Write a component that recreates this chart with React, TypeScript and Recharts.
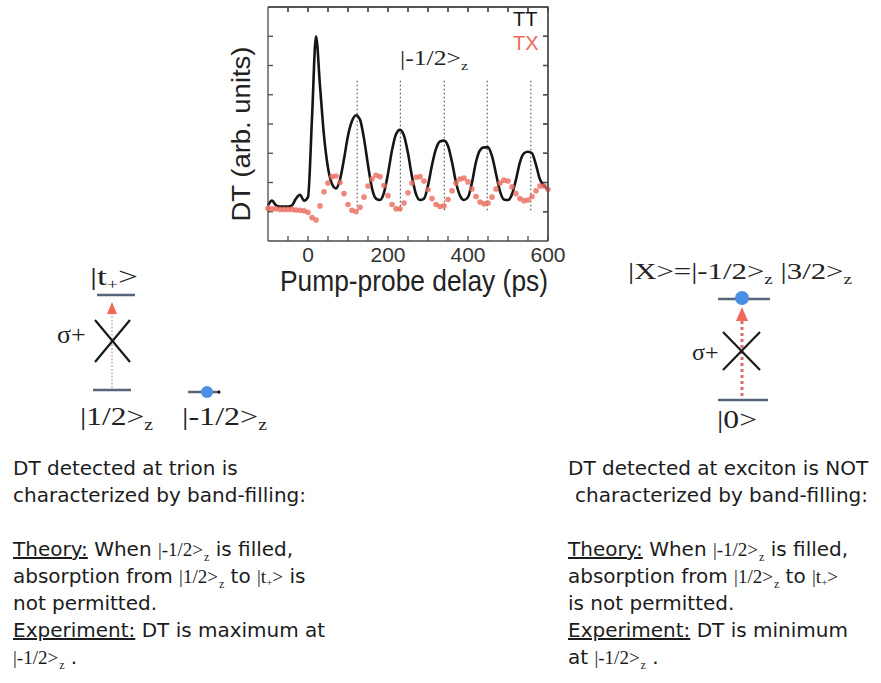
import React from 'react'
import { LineChart, Line, XAxis, YAxis, ReferenceLine, Legend } from 'recharts'

// pump-probe delay grid (ps)
const DELAY_PS = [
  -100, -90, -80, -70, -60, -50, -40, -30, -20, -10,
  0, 10, 20, 30, 40, 50, 60, 70, 80, 90,
  100, 110, 120, 130, 140, 150, 160, 170, 180, 190,
  200, 210, 220, 230, 240, 250, 260, 270, 280, 290,
  300, 310, 320, 330, 340, 350, 360, 370, 380, 390,
  400, 410, 420, 430, 440, 450, 460, 470, 480, 490,
  500, 510, 520, 530, 540, 550, 560, 570, 580, 590,
  600,
]

// DT detected at trion (black line)
const TT_SIGNAL = [
  1.22, 1.38, 1.22, 1.18, 1.18, 1.18, 1.22, 1.45, 1.58, 1.38,
  1.5, 4.2, 7.0, 5.3, 3.6, 2.5, 1.95, 1.8, 2.1, 2.8,
  3.6, 4.1, 4.3, 4.15, 3.5, 2.6, 1.8, 1.45, 1.4, 1.65,
  2.3, 3.1, 3.65, 3.8, 3.6, 3.0, 2.2, 1.6, 1.4, 1.45,
  1.9, 2.6, 3.15, 3.4, 3.43, 3.25, 2.7, 2.0, 1.55, 1.4,
  1.5, 2.0, 2.7, 3.1, 3.2, 3.2, 2.9, 2.3, 1.7, 1.42,
  1.4, 1.6, 2.1, 2.7, 3.0, 3.05, 3.0, 2.6, 2.1, 1.9,
  1.75,
]

// DT detected at exciton (red dots)
const TX_SIGNAL = [
  1.12, 1.1, 1.1, 1.08, 1.08, 1.08, 1.08, 1.06, 1.05, 1.03,
  0.98, 0.8, 0.72, 1.2, 1.68, 1.98, 2.2, 2.22, 2.0, 1.62,
  1.25, 1.05, 1.0, 1.15, 1.5, 1.88, 2.12, 2.25, 2.2, 1.9,
  1.55, 1.25, 1.1, 1.1, 1.3, 1.65, 1.98, 2.18, 2.2, 2.05,
  1.75, 1.45, 1.25, 1.18, 1.2, 1.42, 1.72, 1.98, 2.12, 2.15,
  2.02, 1.78, 1.52, 1.33, 1.27, 1.3, 1.5, 1.78, 1.98, 2.08,
  2.05, 1.85, 1.62, 1.45, 1.38, 1.4, 1.52, 1.72, 1.88, 1.88,
  1.76,
]

// |-1/2>z filling times marked by dotted lines
const PEAK_DELAYS = [123, 231, 341, 448, 557]
const MARK_LOW = 1.05
const MARK_HIGH = 5.5

const X_DOMAIN = [-100, 600]
const Y_DOMAIN = [0, 8]
const X_TICKS = [-50, 0, 50, 100, 150, 200, 250, 300, 350, 400, 450, 500, 550, 600]
const X_LABELED = [0, 200, 400, 600]
const Y_TICKS = [1, 2, 3, 4, 5, 6, 7]

const COLORS: Record<string, string> = { tt: '#151515', tx: '#eb6a5c' }

const data = DELAY_PS.map((t, i) => ({ t, tt: TT_SIGNAL[i], tx: TX_SIGNAL[i] }))

// chart placement on the page
const CHART_LEFT = 200
const CHART_W = 420
const CHART_H = 310
const MARGIN = { top: -13, right: 52, bottom: 10, left: 0 }
const Y_AXIS_W = 68
const TOP_AXIS_H = 20
const RIGHT_AXIS_W = 20
const X_AXIS_H = 59
const PLOT = {
  left: CHART_LEFT + MARGIN.left + Y_AXIS_W,
  right: CHART_LEFT + CHART_W - MARGIN.right - RIGHT_AXIS_W,
  top: MARGIN.top + TOP_AXIS_H,
  bottom: CHART_H - MARGIN.bottom - X_AXIS_H,
}
const px = (t: number) => PLOT.left + ((t - X_DOMAIN[0]) / (X_DOMAIN[1] - X_DOMAIN[0])) * (PLOT.right - PLOT.left)
const py = (v: number) => PLOT.bottom - ((v - Y_DOMAIN[0]) / (Y_DOMAIN[1] - Y_DOMAIN[0])) * (PLOT.bottom - PLOT.top)

const SANS = "'Liberation Sans', Arial, Helvetica, sans-serif"
const SERIF = "'Liberation Serif', 'Times New Roman', serif"
const TEXT = "'DejaVu Sans', Verdana, sans-serif"
const AXIS = '#4a4a4a'
const LEVEL = '#56657a'
const blank = () => ''

const XTitle = (props: any) => {
  const vb = props.viewBox || { x: 68, y: 241 }
  return (
    <text x={vb.x + 12} y={vb.y + 50} fontFamily={SANS} fontSize={29} fill="#222" textLength={268} lengthAdjust="spacingAndGlyphs">
      Pump-probe delay (ps)
    </text>
  )
}

const YTitle = () => (
  <text x={50} y={134} transform="rotate(-90, 50, 134)" textAnchor="middle" fontFamily={SANS} fontSize={25} fill="#222" textLength={175} lengthAdjust="spacingAndGlyphs">
    DT (arb. units)
  </text>
)

const renderLegend = (props: any) => (
  <div style={{ fontFamily: SANS, fontSize: 20, lineHeight: '24px' }}>
    {(props.payload || []).filter((p: any) => COLORS[p.dataKey] && p.type !== 'none').map((p: any) => (
      <div key={p.value} style={{ color: COLORS[p.dataKey] }}>{p.value}</div>
    ))}
  </div>
)

const Ket = ({ children, sub }: { children: React.ReactNode; sub?: string }) => (
  <span style={{ fontFamily: SERIF, fontSize: 19 }}>
    {children}
    {sub && <span style={{ fontSize: 12, position: 'relative', top: 5, marginLeft: 1 }}>{sub}</span>}
  </span>
)

const Tp = () => (
  <Ket>|t<span style={{ fontSize: 11, position: 'relative', top: 3 }}>+</span>&gt;</Ket>
)

const U = ({ children }: { children: React.ReactNode }) => (
  <span style={{ textDecoration: 'underline' }}>{children}</span>
)

const lineStyle = (top: number, left: number): React.CSSProperties => ({
  position: 'absolute', top, left, whiteSpace: 'nowrap', fontFamily: TEXT, fontSize: 20, lineHeight: '27px', color: '#1c1c1c',
})

const SubZ = () => <tspan fontSize="0.62em" dy={5}>z</tspan>

export default function App() {
  return (
    <div style={{ position: 'absolute', left: 0, top: 0, width: 881, height: 683, background: '#fff', overflow: 'hidden' }}>
      <div style={{ position: 'absolute', left: CHART_LEFT, top: 0 }}>
        <LineChart width={CHART_W} height={CHART_H} data={data} margin={MARGIN}>
          <XAxis
            dataKey="t" type="number" domain={X_DOMAIN} ticks={X_TICKS} interval={0}
            tickFormatter={(v: number) => (X_LABELED.includes(v) ? String(v) : '')}
            height={X_AXIS_H} tickSize={-5} tickMargin={11} stroke={AXIS} strokeWidth={1.3}
            tick={{ fill: '#333', fontSize: 21, fontFamily: SANS }}
            label={(p: any) => <XTitle {...p} />}
          />
          <XAxis xAxisId="top" dataKey="t" orientation="top" type="number" domain={X_DOMAIN} ticks={X_TICKS} interval={0}
            height={TOP_AXIS_H} tickSize={-5} tickFormatter={blank} stroke={AXIS} strokeWidth={1.3} />
          <YAxis type="number" domain={Y_DOMAIN} ticks={Y_TICKS} interval={0} width={Y_AXIS_W} tickSize={-5} tickFormatter={blank}
            stroke={AXIS} strokeWidth={1.3} label={() => <YTitle />} />
          <YAxis yAxisId="right" orientation="right" type="number" domain={Y_DOMAIN} ticks={Y_TICKS} interval={0}
            width={RIGHT_AXIS_W} tickSize={-5} tickFormatter={blank} stroke={AXIS} strokeWidth={1.3} />
          {PEAK_DELAYS.map((p) => (
            <ReferenceLine key={p} segment={[{ x: p, y: MARK_LOW }, { x: p, y: MARK_HIGH }]} stroke="#555" strokeWidth={1.2} strokeDasharray="1.5 2.5" />
          ))}
          {/* invisible copy that binds the top and right frame axes */}
          <Line xAxisId="top" yAxisId="right" dataKey="tt" stroke="none" dot={false} legendType="none" isAnimationActive={false} />
          <Line type="monotone" dataKey="tt" name="TT" stroke={COLORS.tt} strokeWidth={2.6} dot={false} isAnimationActive={false} />
          <Line type="monotone" dataKey="tx" name="TX" stroke="none" dot={{ r: 2.8, fill: COLORS.tx, stroke: 'none', fillOpacity: 0.8 }} isAnimationActive={false} />
          <Legend content={renderLegend} layout="horizontal" verticalAlign="middle" align="center"
            wrapperStyle={{ position: 'absolute', top: 7, left: 313, width: 40, height: 50 }} />
        </LineChart>
      </div>

      <svg width={881} height={683} style={{ position: 'absolute', left: 0, top: 0, pointerEvents: 'none' }}>
        {/* plot frame: top and right sides with inward ticks */}
        <path d={`M${PLOT.left},${PLOT.top} H${PLOT.right} V${PLOT.bottom}`} fill="none" stroke={AXIS} strokeWidth={1.3} />
        {X_TICKS.map((t) => (
          <line key={'tt' + t} x1={px(t)} x2={px(t)} y1={PLOT.top} y2={PLOT.top + 5} stroke={AXIS} strokeWidth={1.3} />
        ))}
        {Y_TICKS.map((v) => (
          <line key={'rt' + v} x1={PLOT.right - 5} x2={PLOT.right} y1={py(v)} y2={py(v)} stroke={AXIS} strokeWidth={1.3} />
        ))}

        <text x={400} y={65} fontFamily={SERIF} fontSize={21} fill="#222" textLength={68} lengthAdjust="spacingAndGlyphs">|-1/2&gt;<SubZ /></text>

        {/* trion level scheme */}
        <text x={90} y={285} fontFamily={SERIF} fontSize={26} fill="#222" textLength={48} lengthAdjust="spacingAndGlyphs">|t<tspan fontSize="0.55em" dy={4}>+</tspan><tspan dy={-4}>&gt;</tspan></text>
        <line x1={97} x2={135} y1={295} y2={295} stroke={LEVEL} strokeWidth={2.5} />
        <line x1={112} x2={112} y1={313} y2={388} stroke="#e89a94" strokeWidth={1.5} strokeDasharray="1.5 2" />
        <polygon points="112,302 107,314 117,314" fill="#f2695c" />
        <line x1={95} y1={320} x2={130} y2={362} stroke="#1a1a1a" strokeWidth={2.2} />
        <line x1={130} y1={320} x2={95} y2={362} stroke="#1a1a1a" strokeWidth={2.2} />
        <text x={57} y={343} fontFamily={SERIF} fontSize={26} fill="#222">σ+</text>
        <line x1={93} x2={131} y1={390} y2={390} stroke={LEVEL} strokeWidth={2.5} />
        <text x={80} y={425} fontFamily={SERIF} fontSize={26} fill="#222" textLength={73} lengthAdjust="spacingAndGlyphs">|1/2&gt;<SubZ /></text>
        <line x1={188} x2={220} y1={392} y2={392} stroke={LEVEL} strokeWidth={2.5} />
        <circle cx={207} cy={392} r={6} fill="#4a90e2" />
        <circle cx={219} cy={392} r={1.6} fill="#111" />
        <text x={182} y={425} fontFamily={SERIF} fontSize={26} fill="#222" textLength={85} lengthAdjust="spacingAndGlyphs">|-1/2&gt;<SubZ /></text>

        {/* exciton level scheme */}
        <text x={628} y={279} fontFamily={SERIF} fontSize={24} fill="#222" textLength={224} lengthAdjust="spacingAndGlyphs">|X&gt;=|-1/2&gt;<SubZ /><tspan dy={-5}> |3/2&gt;</tspan><SubZ /></text>
        <line x1={718} x2={770} y1={299} y2={299} stroke={LEVEL} strokeWidth={2.5} />
        <circle cx={742} cy={298} r={7} fill="#4a90e2" />
        <line x1={742} x2={742} y1={321} y2={397} stroke="#d9706c" strokeWidth={3} strokeDasharray="3 3" />
        <polygon points="742,307 736,321 748,321" fill="#f2695c" />
        <line x1={723} y1={332} x2={760} y2={370} stroke="#1a1a1a" strokeWidth={2.2} />
        <line x1={760} y1={332} x2={723} y2={370} stroke="#1a1a1a" strokeWidth={2.2} />
        <text x={692} y={360} fontFamily={SERIF} fontSize={24} fill="#222">σ+</text>
        <line x1={718} x2={768} y1={400} y2={400} stroke={LEVEL} strokeWidth={2.5} />
        <text x={717} y={428} fontFamily={SERIF} fontSize={26} fill="#222" textLength={40} lengthAdjust="spacingAndGlyphs">|0&gt;</text>
      </svg>

      <div style={lineStyle(455, 13)}>DT detected at trion is</div>
      <div style={lineStyle(482, 13)}>characterized by band-filling:</div>
      <div style={lineStyle(536, 13)}><U>Theory:</U> When <Ket sub="z">|-1/2&gt;</Ket> is filled,</div>
      <div style={lineStyle(563, 13)}>absorption from <Ket sub="z">|1/2&gt;</Ket> to <Tp /> is</div>
      <div style={lineStyle(590, 13)}>not permitted.</div>
      <div style={lineStyle(617, 13)}><U>Experiment:</U> DT is maximum at</div>
      <div style={lineStyle(644, 13)}><Ket sub="z">|-1/2&gt;</Ket> .</div>

      <div style={lineStyle(455, 568)}>DT detected at exciton is NOT</div>
      <div style={lineStyle(482, 575)}>characterized by band-filling:</div>
      <div style={lineStyle(536, 568)}><U>Theory:</U> When <Ket sub="z">|-1/2&gt;</Ket> is filled,</div>
      <div style={lineStyle(563, 568)}>absorption from <Ket sub="z">|1/2&gt;</Ket> to <Tp /></div>
      <div style={lineStyle(590, 568)}>is not permitted.</div>
      <div style={lineStyle(617, 568)}><U>Experiment:</U> DT is minimum</div>
      <div style={lineStyle(644, 568)}>at <Ket sub="z">|-1/2&gt;</Ket> .</div>
    </div>
  )
}
